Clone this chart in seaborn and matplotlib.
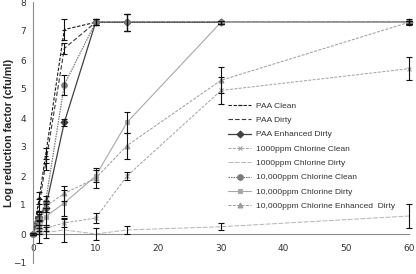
import numpy as np
import pandas as pd
import matplotlib
matplotlib.use("Agg")
import matplotlib.pyplot as plt
import seaborn as sns

# ---- data ----
times = [0, 1, 2, 5, 10, 15, 30, 60]

labels = ["PAA Clean", "PAA Dirty", "PAA Enhanced Dirty",
          "1000ppm Chlorine Clean", "1000ppm Chlorine Dirty",
          "10,000ppm Chlorine Clean", "10,000ppm Chlorine Dirty",
          "10,000ppm Chlorine Enhanced  Dirty"]

paa_clean = [0, 1.25, 2.7, 7.05, 7.3, 7.3, 7.3, 7.3]
paa_dirty = [0, 1.0, 2.4, 6.4, 7.3, 7.3, 7.3, 7.3]
paa_enh_dirty = [0, 0.6, 0.9, 3.85, 7.3, 7.3, 7.3, 7.3]
cl1000_clean = [0, 0.1, 0.2, 0.38, 0.55, 2.0, 4.95, 5.7]
cl1000_dirty = [0, 0.0, 0.05, 0.14, 0.0, 0.14, 0.25, 0.62]
cl10000_clean = [0, 0.5, 1.1, 5.15, 7.3, 7.3, 7.3, 7.3]
cl10000_dirty = [0, 0.15, 0.6, 1.07, 2.0, 3.85, 7.3, 7.3]
cl10000_enh_dirty = [0, 0.3, 0.95, 1.4, 1.92, 3.05, 5.3, 7.3]

err_paa_clean = [0.05, 0.2, 0.25, 0.35, 0.1, 0.3, 0.05, 0.05]
err_paa_dirty = [0.05, 0.2, 0.2, 0.2, 0.1, 0.3, 0.05, 0.05]
err_paa_enh_dirty = [0.05, 0.15, 0.15, 0.12, 0.1, 0.3, 0.05, 0.05]
err_cl1000_clean = [0.05, 0.1, 0.1, 0.15, 0.18, 0.15, 0.45, 0.4]
err_cl1000_dirty = [0.05, 0.3, 0.2, 0.4, 0.2, 0.15, 0.12, 0.4]
err_cl10000_clean = [0.05, 0.2, 0.2, 0.35, 0.1, 0.3, 0.05, 0.05]
err_cl10000_dirty = [0.05, 0.15, 0.3, 0.45, 0.2, 0.35, 0.05, 0.05]
err_cl10000_enh_dirty = [0.05, 0.2, 0.2, 0.25, 0.35, 0.45, 0.45, 0.1]

values = [paa_clean, paa_dirty, paa_enh_dirty, cl1000_clean, cl1000_dirty,
          cl10000_clean, cl10000_dirty, cl10000_enh_dirty]
errors = [err_paa_clean, err_paa_dirty, err_paa_enh_dirty, err_cl1000_clean,
          err_cl1000_dirty, err_cl10000_clean, err_cl10000_dirty,
          err_cl10000_enh_dirty]

# ---- styles ----
styles = [
    dict(color="#1a1a1a", ls=(0, (3, 1.5)), marker="_", ms=3, lw=0.8),
    dict(color="#3a3a3a", ls=(0, (4, 2)), marker=None, ms=0, lw=0.8),
    dict(color="#404040", ls="-", marker="D", ms=3.5, lw=0.9),
    dict(color="#a0a0a0", ls=(0, (3, 1.5)), marker="x", ms=2.5, lw=0.7),
    dict(color="#b4b4b4", ls=(0, (5, 1.5)), marker=None, ms=0, lw=0.7),
    dict(color="#7a7a7a", ls=(0, (1.2, 0.8)), marker="o", ms=4, lw=0.9),
    dict(color="#a8a8a8", ls="-", marker="s", ms=3.5, lw=0.8),
    dict(color="#9a9a9a", ls=(0, (3, 1.5)), marker="^", ms=3.5, lw=0.7),
]

sns.set_theme(style="white")
plt.rcParams["font.family"] = ["DejaVu Sans"]

fig = plt.figure(figsize=(4.16, 2.74), dpi=100)
ax = fig.add_axes([33 / 416, 11 / 274, 376 / 416, 261 / 274])

for lab, vals, errs, st in zip(labels, values, errors, styles):
    df = pd.DataFrame({"t": times, "v": vals})
    sns.lineplot(data=df, x="t", y="v", ax=ax, color=st["color"],
                 linestyle=st["ls"], linewidth=st["lw"],
                 marker=st["marker"] if st["marker"] else None,
                 markersize=st["ms"], markeredgecolor=st["color"],
                 markeredgewidth=0.8, label=lab, clip_on=False,
                 errorbar=None)
    ax.errorbar(times, vals, yerr=errs, fmt="none", ecolor="#111111",
                elinewidth=0.8, capsize=2, capthick=0.8, clip_on=False,
                zorder=5)

ax.set_xlim(0, 60)
ax.set_ylim(-1, 8)
ax.set_xticks([0, 10, 20, 30, 40, 50, 60])
ax.set_yticks(range(-1, 9))
ax.spines["bottom"].set_position(("data", 0))
ax.spines["top"].set_visible(False)
ax.spines["right"].set_visible(False)
for s in ["left", "bottom"]:
    ax.spines[s].set_color("#8c8c8c")
    ax.spines[s].set_linewidth(0.8)
ax.tick_params(axis="both", which="both", direction="out", length=3,
               width=0.8, color="#8c8c8c", labelsize=6.5, labelcolor="#333333",
               pad=2)
ax.tick_params(axis="x", pad=4)
ax.set_xlabel("")
ax.set_ylabel("Log reduction factor (cfu/ml)", fontsize=7.8,
              fontweight="bold", family=["Liberation Sans", "DejaVu Sans"])
ax.yaxis.set_label_coords(-19 / 376, 0.5)

leg = ax.legend(loc="upper left", bbox_to_anchor=(228 / 416, 1 - 102 / 274),
                bbox_transform=fig.transFigure, frameon=False,
                prop={"family": ["Liberation Sans", "DejaVu Sans"], "size": 6},
                handlelength=2.8, handletextpad=0.5, labelspacing=0.78,
                borderpad=0, borderaxespad=0)
for t in leg.get_texts():
    t.set_color("#333333")

fig.savefig("out.png", dpi=100)
